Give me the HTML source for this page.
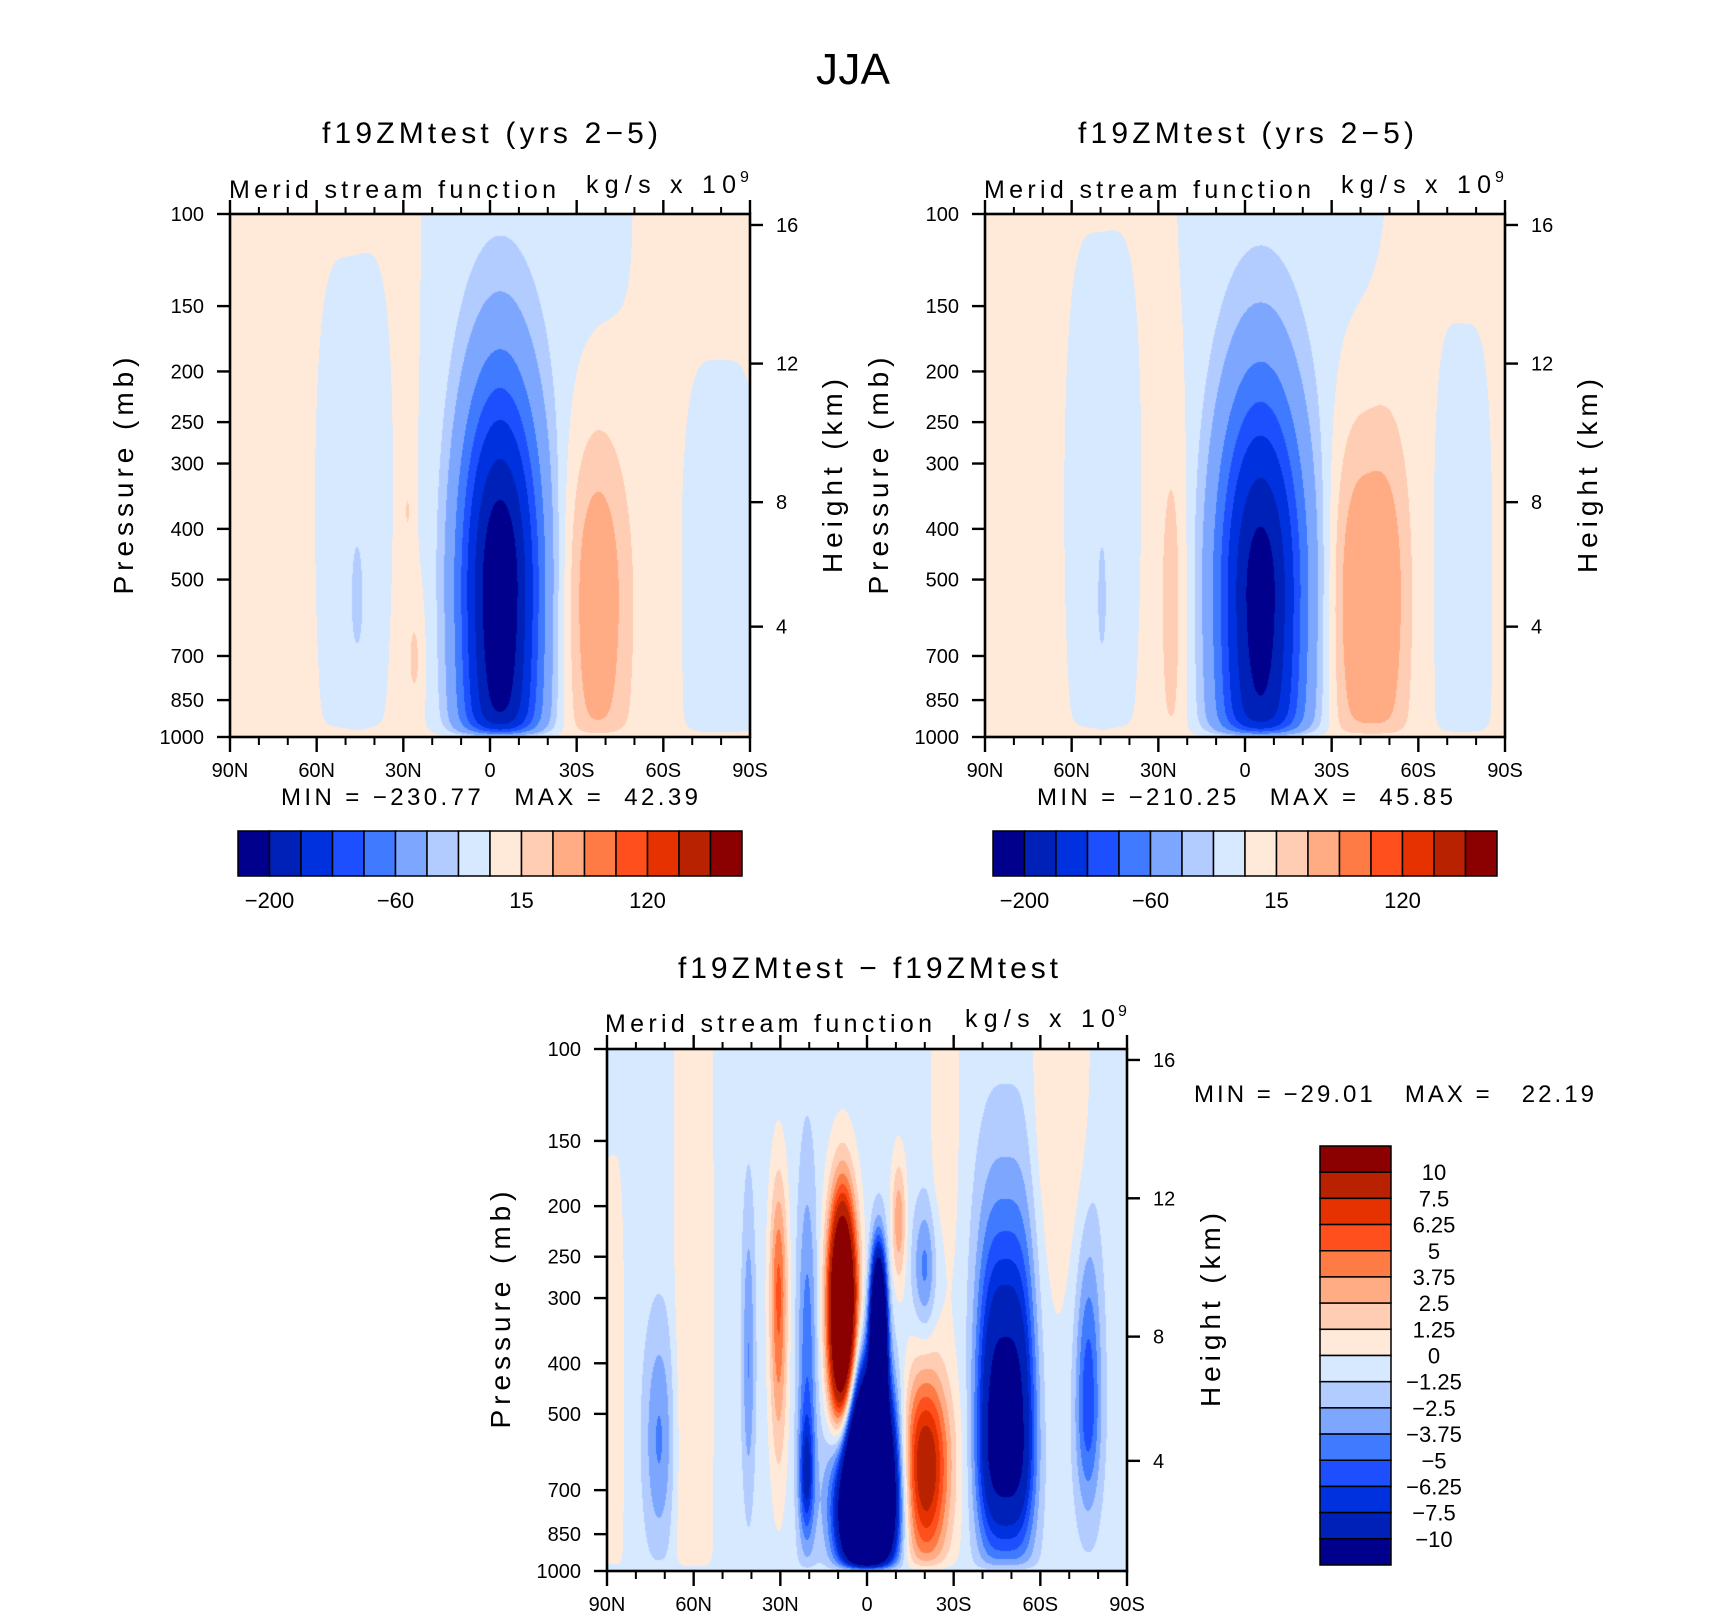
<!DOCTYPE html>
<html><head><meta charset="utf-8">
<style>
html,body{margin:0;padding:0;background:#fff;}
#root{position:relative;width:1710px;height:1620px;overflow:hidden;background:#fff;}
canvas{position:absolute;}
svg{position:absolute;left:0;top:0;}
text{font-family:"Liberation Sans",sans-serif;fill:#000;white-space:pre;}
</style></head>
<body>
<div id="root">
<canvas id="c1" width="520" height="523" style="left:230px;top:214px"></canvas>
<canvas id="c2" width="520" height="523" style="left:985px;top:214px"></canvas>
<canvas id="c3" width="520" height="522" style="left:607px;top:1049px"></canvas>
<svg id="ov" width="1710" height="1620">
<text x="853" y="84" font-size="44" text-anchor="middle" textLength="74">JJA</text>
<text x="490" y="143" font-size="30" text-anchor="middle" textLength="336">f19ZMtest (yrs 2−5)</text>
<text x="1246" y="143" font-size="30" text-anchor="middle" textLength="336">f19ZMtest (yrs 2−5)</text>
<text x="868" y="978" font-size="30" text-anchor="middle" textLength="380">f19ZMtest − f19ZMtest</text>
<text x="229" y="198" font-size="25" textLength="327">Merid stream function</text>
<text x="586" y="193" font-size="25" textLength="150">kg/s x 10</text>
<text x="740" y="182" font-size="16">9</text>
<text x="984" y="198" font-size="25" textLength="327">Merid stream function</text>
<text x="1341" y="193" font-size="25" textLength="150">kg/s x 10</text>
<text x="1495" y="182" font-size="16">9</text>
<text x="605" y="1032" font-size="25" textLength="327">Merid stream function</text>
<text x="965" y="1027" font-size="25" textLength="150">kg/s x 10</text>
<text x="1118" y="1016" font-size="16">9</text>
<text transform="translate(133,476) rotate(-90)" font-size="28" text-anchor="middle" textLength="237">Pressure (mb)</text>
<text transform="translate(842,476) rotate(-90)" font-size="28" text-anchor="middle" textLength="194">Height (km)</text>
<text transform="translate(888,476) rotate(-90)" font-size="28" text-anchor="middle" textLength="237">Pressure (mb)</text>
<text transform="translate(1597,476) rotate(-90)" font-size="28" text-anchor="middle" textLength="194">Height (km)</text>
<text transform="translate(510,1310) rotate(-90)" font-size="28" text-anchor="middle" textLength="237">Pressure (mb)</text>
<text transform="translate(1220,1310) rotate(-90)" font-size="28" text-anchor="middle" textLength="194">Height (km)</text>
<text x="281" y="805" font-size="24" textLength="417">MIN = −230.77   MAX =  42.39</text>
<text x="1037" y="805" font-size="24" textLength="416">MIN = −210.25   MAX =  45.85</text>
<text x="1194" y="1102" font-size="24" textLength="400">MIN = −29.01   MAX =   22.19</text>
</svg>
</div>
<script>
// ---- data ----
const pressureTicks = [100,150,200,250,300,400,500,700,850,1000];
const heightTicks = [16,12,8,4];
const heightTickFrac = [0.021,0.286,0.551,0.789];
const latMajorTicks = [90,60,30,0,-30,-60,-90];
const latMajorLabels = ['90N','60N','30N','0','30S','60S','90S'];
const latMinorTicks = [80,70,50,40,20,10,-10,-20,-40,-50,-70,-80];

const fillColors = ['#00008c','#0021b8','#0031de','#1e4fff','#3f7aff','#7da7ff','#b2ccff','#d6e9ff','#ffe9d9','#ffcdb4','#ffac84','#ff7b45','#ff4f1c','#e63200','#b82200','#8b0000'];
const levelsTop = [-200,-160,-120,-90,-60,-30,-15,0,15,30,60,90,120,160,200];
const levelsDiff = [-10,-7.5,-6.25,-5,-3.75,-2.5,-1.25,0,1.25,2.5,3.75,5,6.25,7.5,10];
const cbTopLabels = ['−200','−60','15','120'];
const cbTopLabelIdx = [1,5,9,13];
const cbDiffLabels = ['−10','−7.5','−6.25','−5','−3.75','−2.5','−1.25','0','1.25','2.5','3.75','5','6.25','7.5','10'];

// panel 1 cells (lat deg, pressure mb, amplitude, lat width, up width (decades), down width, lat exponent)
const p1Base = 5;
const p1Lat  = [-3.5, -37, -13, 47.5, 46, -80, 28.5, 26];
const p1P    = [525, 525, 100, 355, 575, 450, 370, 710];
const p1Amp  = [-245, 45, -10, -12, -12, -12, 14, 16];
const p1LatW = [13.5, 11, 40, 13.5, 3.5, 14, 1.5, 3];
const p1Up   = [0.38, 0.31, 1, 0.5, 0.2, 0.4, 0.07, 0.12];
const p1Down = [0.6, 0.4, 0.8, 0.6, 0.15, 0.9, 0.07, 0.1];
const p1N    = [2, 2, 4, 4, 2, 4, 2, 2];

const p2Base = 5;
const p2Lat  = [-5.4, -43, -12.6, 49.5, 49.5, -75.5, 25];
const p2P    = [537, 525, 100, 355, 575, 447, 525];
const p2Amp  = [-225, 48, -10, -12, -12, -12, 20];
const p2LatW = [14.5, 13, 40, 13.5, 2.5, 10.5, 5];
const p2Up   = [0.38, 0.33, 1, 0.55, 0.2, 0.47, 0.35];
const p2Down = [0.6, 0.4, 0.8, 0.6, 0.15, 0.8, 0.4];
const p2N    = [2, 3, 4, 4, 2, 4, 2];

const p3Base = -0.6;
const p3Lat  = [60, 88, -27, -67, 72, 41, 30.6, 20.7, 21, 8.5, 0, -4, -11, -20, -20, -48, -76.5];
const p3P    = [316, 398, 100, 100, 562, 398, 295, 398, 661, 316, 724, 355, 214, 263, 631, 562, 479];
const p3Amp  = [1.6, 1.6, 1.6, 1.8, -3.3, -3.2, 6, -4, -5, 24, -40, -30, 4, -3.5, 10, -12, -5.5];
const p3LatW = [7, 4, 5, 10, 5, 2.2, 3, 3.3, 2.5, 4.6, 9, 2.5, 2.5, 4, 8.5, 10, 4.5];
const p3Up   = [1.2, 0.4, 1, 1, 0.22, 0.3, 0.22, 0.35, 0.12, 0.2, 0.2, 0.14, 0.12, 0.12, 0.18, 0.4, 0.3];
const p3Down = [1.2, 0.6, 0.45, 0.5, 0.2, 0.25, 0.3, 0.4, 0.1, 0.25, 0.15, 0.2, 0.12, 0.12, 0.2, 0.22, 0.2];
const p3N    = [4, 4, 4, 4, 2, 2, 2, 2, 2, 2, 2, 2, 2, 2, 2, 3, 2];

// ---- rendering ----
function hex(c){return [parseInt(c.substr(1,2),16),parseInt(c.substr(3,2),16),parseInt(c.substr(5,2),16)];}
const rgb = fillColors.map(hex);
function latToFx(lat){return (90-lat)/180;}
function pToFy(p){return Math.log10(p)-2;}

function renderField(id, base, lat, P, amp, latW, up, down, N, levels){
  const cv=document.getElementById(id), ctx=cv.getContext('2d');
  const w=cv.width,h=cv.height, img=ctx.createImageData(w,h), d=img.data;
  const fyc=P.map(pToFy);
  for(let j=0;j<h;j++){
    const fy=(j+0.5)/h;
    const taper=1-Math.exp(-(1-fy)/0.015);
    for(let i=0;i<w;i++){
      const la=90-180*(i+0.5)/w;
      let s=0;
      for(let k=0;k<amp.length;k++){
        const dx=Math.abs((la-lat[k])/latW[k]);
        const dyv=fy-fyc[k];
        const dy=dyv<0? dyv/up[k] : dyv/down[k];
        s+=amp[k]*Math.exp(-Math.pow(dx,N[k])-dy*dy);
      }
      const f=base+s*taper;
      let idx=0; while(idx<levels.length && f>=levels[idx]) idx++;
      const c=rgb[idx], o=(j*w+i)*4;
      d[o]=c[0];d[o+1]=c[1];d[o+2]=c[2];d[o+3]=255;
    }
  }
  ctx.putImageData(img,0,0);
}
renderField('c1',p1Base,p1Lat,p1P,p1Amp,p1LatW,p1Up,p1Down,p1N,levelsTop);
renderField('c2',p2Base,p2Lat,p2P,p2Amp,p2LatW,p2Up,p2Down,p2N,levelsTop);
renderField('c3',p3Base,p3Lat,p3P,p3Amp,p3LatW,p3Up,p3Down,p3N,levelsDiff);

const NS='http://www.w3.org/2000/svg';
const ov=document.getElementById('ov');
function mk(tag,attrs){const e=document.createElementNS(NS,tag);for(const k in attrs)e.setAttribute(k,attrs[k]);ov.appendChild(e);return e;}

function drawAxes(px,py,pw,ph,pre){
  const fr=mk('rect',{x:px,y:py,width:pw,height:ph,fill:'none',stroke:'#000','stroke-width':2.6});
  
  
  pressureTicks.forEach(p=>{
    const y=py+ph*pToFy(p);
    const t=mk('line',{x1:px-13,y1:y,x2:px,y2:y,stroke:'#000','stroke-width':2.4});
    
    
    const l=mk('text',{x:px-26,y:y+7,'font-size':20,'text-anchor':'end'});
    l.textContent=String(p);
    
    
  });
  latMajorTicks.forEach((la,k)=>{
    const x=px+pw*latToFx(la);
    const b=mk('line',{x1:x,y1:py+ph,x2:x,y2:py+ph+15,stroke:'#000','stroke-width':2.4});
    
    
    const t=mk('line',{x1:x,y1:py,x2:x,y2:py-14,stroke:'#000','stroke-width':2.4});
    
    
    const l=mk('text',{x:x,y:py+ph+40,'font-size':20,'text-anchor':'middle'});
    l.textContent=latMajorLabels[k];
    
    
  });
  latMinorTicks.forEach(la=>{
    const x=px+pw*latToFx(la);
    const b=mk('line',{x1:x,y1:py+ph,x2:x,y2:py+ph+8,stroke:'#000','stroke-width':2});
    
    
    const t=mk('line',{x1:x,y1:py,x2:x,y2:py-7,stroke:'#000','stroke-width':2});
    
    
  });
  heightTicks.forEach((z,k)=>{
    const y=py+ph*heightTickFrac[k];
    const t=mk('line',{x1:px+pw,y1:y,x2:px+pw+13,y2:y,stroke:'#000','stroke-width':2.4});
    
    
    const l=mk('text',{x:px+pw+26,y:y+7,'font-size':20});
    l.textContent=String(z);
    
    
  });
}
drawAxes(230,214,520,523,'panel1');
drawAxes(985,214,520,523,'panel2');
drawAxes(607,1049,520,522,'diff');

function hColorbar(x0,y0,w,h,pre){
  const bw=w/fillColors.length;
  fillColors.forEach((c,k)=>{
    const r=mk('rect',{x:x0+k*bw,y:y0,width:bw,height:h,fill:c,stroke:'#000','stroke-width':1.5});
    
    
  });
  cbTopLabels.forEach((s,k)=>{
    const l=mk('text',{x:x0+cbTopLabelIdx[k]*bw,y:y0+h+32,'font-size':22,'text-anchor':'middle'});
    l.textContent=s;
    
    
  });
}
hColorbar(238,831,504,45,'panel1');
hColorbar(993,831,504,45,'panel2');

(function(){
  const x0=1320,y0=1146,w=71,h=419,n=fillColors.length,bh=h/n;
  for(let k=0;k<n;k++){
    const r=mk('rect',{x:x0,y:y0+k*bh,width:w,height:bh,fill:fillColors[n-1-k],stroke:'#000','stroke-width':1.5});
    
    
  }
  for(let k=0;k<cbDiffLabels.length;k++){
    const l=mk('text',{x:1434,y:y0+(k+1)*bh+8,'font-size':22,'text-anchor':'middle'});
    l.textContent=cbDiffLabels[cbDiffLabels.length-1-k];
    
    
  }
})();
</script>
</body></html>
